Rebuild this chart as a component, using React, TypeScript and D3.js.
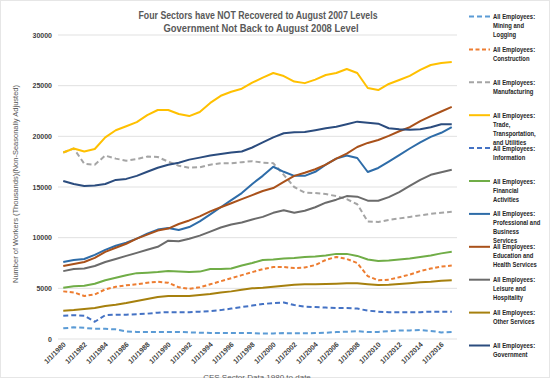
import React from "react";
import * as d3 from "d3";

const years = [1980,1981,1982,1983,1984,1985,1986,1987,1988,1989,1990,1991,1992,1993,1994,1995,1996,1997,1998,1999,2000,2001,2002,2003,2004,2005,2006,2007,2008,2009,2010,2011,2012,2013,2014,2015,2016,2017];

const mining = [1050,1150,1100,1000,1000,950,750,700,700,700,700,700,650,620,600,590,580,590,590,540,550,580,560,560,580,620,680,720,780,690,700,780,830,850,880,800,650,700];
const construction = [4700,4600,4250,4400,4900,5150,5300,5400,5550,5650,5550,5100,4950,5100,5400,5700,6000,6300,6600,6900,7100,7100,7000,7050,7300,7800,8100,7900,7500,6200,5800,5850,6100,6350,6700,6950,7150,7250];
const manufacturing = [18400,18800,17300,17200,18100,17800,17600,17750,18000,17960,17500,17100,16900,16950,17200,17350,17350,17450,17550,17400,17350,16200,15000,14450,14400,14300,14100,13800,13300,11600,11550,11750,11900,12050,12200,12350,12450,12550];
const trade = [18400,18800,18500,18750,19900,20600,21000,21400,22100,22600,22600,22200,22000,22400,23300,24000,24400,24700,25300,25800,26250,25950,25400,25250,25600,26050,26250,26650,26250,24770,24570,25170,25560,25960,26550,27040,27240,27340];
const information = [2300,2350,2300,1700,2350,2400,2400,2450,2500,2600,2650,2650,2650,2700,2750,2850,3000,3150,3300,3450,3550,3600,3350,3200,3150,3100,3050,3050,3000,2800,2700,2650,2650,2650,2650,2700,2700,2700];
const financial = [5050,5200,5250,5450,5800,6050,6300,6500,6550,6600,6700,6650,6600,6650,6900,6900,6950,7250,7500,7800,7850,7950,8000,8100,8150,8250,8400,8400,8200,7850,7700,7750,7850,7950,8100,8250,8450,8600];
const professional = [7600,7800,7900,8300,8800,9200,9500,9900,10400,10800,10960,10760,11050,11600,12300,13000,13700,14400,15300,16100,17000,16500,16100,16100,16500,17200,17800,18100,17860,16480,16880,17500,18150,18800,19400,19940,20350,20920];
const education = [7200,7400,7600,8000,8600,9000,9400,9900,10300,10700,10900,11350,11700,12100,12600,13000,13400,13800,14200,14600,14900,15500,16100,16400,16750,17200,17800,18300,18950,19350,19640,20040,20500,20900,21500,22000,22450,22900];
const leisure = [6700,6900,6950,7200,7600,7900,8200,8500,8800,9100,9700,9650,9900,10200,10600,11000,11300,11500,11800,12050,12450,12700,12450,12650,13000,13450,13750,14100,14050,13650,13650,14000,14500,15100,15700,16200,16450,16700];
const otherServices = [2800,2850,2950,3050,3250,3380,3550,3750,3950,4150,4250,4250,4250,4350,4450,4600,4700,4850,5000,5050,5150,5250,5350,5400,5400,5420,5450,5500,5500,5400,5320,5350,5420,5500,5600,5650,5750,5800];
const government = [15600,15300,15100,15150,15300,15700,15800,16100,16500,16900,17200,17400,17700,17900,18100,18250,18400,18500,18900,19400,19900,20300,20400,20420,20600,20800,20950,21200,21450,21350,21250,20800,20700,20650,20700,20900,21200,21200];

const yTicks = [0, 5000, 10000, 15000, 20000, 25000, 30000];
const xLabelYears = [1980,1982,1984,1986,1988,1990,1992,1994,1996,1998,2000,2002,2004,2006,2008,2010,2012,2014,2016];

const seriesList = [
  { name: ["All Employees:", "Mining and", "Logging"], values: mining, color: "#5B9BD5", dash: "5,3" },
  { name: ["All Employees:", "Construction"], values: construction, color: "#ED7D31", dash: "4,2.5" },
  { name: ["All Employees:", "Manufacturing"], values: manufacturing, color: "#A5A5A5", dash: "5,3" },
  { name: ["All Employees:", "Trade,", "Transportation,", "and Utilities"], values: trade, color: "#FFC000", dash: null },
  { name: ["All Employees:", "Information"], values: information, color: "#4472C4", dash: "5,3" },
  { name: ["All Employees:", "Financial", "Activities"], values: financial, color: "#70AD47", dash: null },
  { name: ["All Employees:", "Professional and", "Business", "Services"], values: professional, color: "#2E6CA8", dash: null },
  { name: ["All Employees:", "Education and", "Health Services"], values: education, color: "#A9511A", dash: null },
  { name: ["All Employees:", "Leisure and", "Hospitality"], values: leisure, color: "#6B6B6B", dash: null },
  { name: ["All Employees:", "Other Services"], values: otherServices, color: "#A6800E", dash: null },
  { name: ["All Employees:", "Government"], values: government, color: "#2B4C7E", dash: null },
];

const W = 550, H = 378;
const left = 58, right = 457, top = 35, bottom = 339;

export default function App() {
  const x = d3.scalePoint<number>().domain(years).range([left, right]).padding(0.5);
  const y = d3.scaleLinear().domain([0, 30000]).range([bottom, top]);
  const line = d3.line<number>().x((_, i) => x(years[i]) as number).y((v) => y(v));
  const font = "'Liberation Sans', Arial, sans-serif";

  return (
    <svg width={W} height={H} style={{ position: "absolute", left: 0, top: 0, background: "#fff" }} fontFamily={font}>
      <rect x={0.5} y={0.5} width={W - 1} height={H - 1} fill="#fff" stroke="#e6e6e6" />
      <text x={258} y={19} textAnchor="middle" fontSize={11} fontWeight="bold" fill="#595959" textLength={239} lengthAdjust="spacingAndGlyphs">Four Sectors have NOT Recovered to August 2007 Levels</text>
      <text x={261} y={32} textAnchor="middle" fontSize={11} fontWeight="bold" fill="#595959" textLength={195} lengthAdjust="spacingAndGlyphs">Government Not Back to August 2008 Level</text>

      {yTicks.map((t) => (
        <g key={t}>
          <line x1={left} x2={right} y1={y(t)} y2={y(t)} stroke="#d9d9d9" strokeWidth={0.8} />
          <text x={52} y={y(t) + 2.5} textAnchor="end" fontSize={7} fontWeight="bold" fill="#404040">{t}</text>
        </g>
      ))}

      {xLabelYears.map((yr) => (
        <text key={yr} transform={`translate(${(x(yr) as number) + 3},${345}) rotate(-45)`} textAnchor="end" fontSize={7} fontWeight="bold" fill="#404040">{`1/1/${yr}`}</text>
      ))}

      <text transform={`translate(18,184) rotate(-90)`} textAnchor="middle" fontSize={7.5} fill="#595959" textLength={198} lengthAdjust="spacingAndGlyphs">Number of Workers (Thousands)(Non-Seasonally Adjusted)</text>
      <text x={257} y={380} textAnchor="middle" fontSize={8} fill="#595959">CES Sector Data 1980 to date</text>

      {seriesList.map((s, i) => (
        <path key={i} d={line(s.values) as string} fill="none" stroke={s.color} strokeWidth={2} strokeDasharray={s.dash || undefined} strokeLinejoin="round" />
      ))}

      {seriesList.map((s, i) => {
        const ly = 16.5 + i * 32.9;
        return (
          <g key={"lg" + i}>
            <line x1={469} x2={490} y1={ly} y2={ly} stroke={s.color} strokeWidth={2} strokeDasharray={s.dash || undefined} />
            {s.name.map((t, j) => (
              <text key={j} transform={`translate(493,${ly + 2.5 + j * 9}) scale(0.84,1)`} fontSize={7} fontWeight="bold" fill="#262626">{t}</text>
            ))}
          </g>
        );
      })}
    </svg>
  );
}
